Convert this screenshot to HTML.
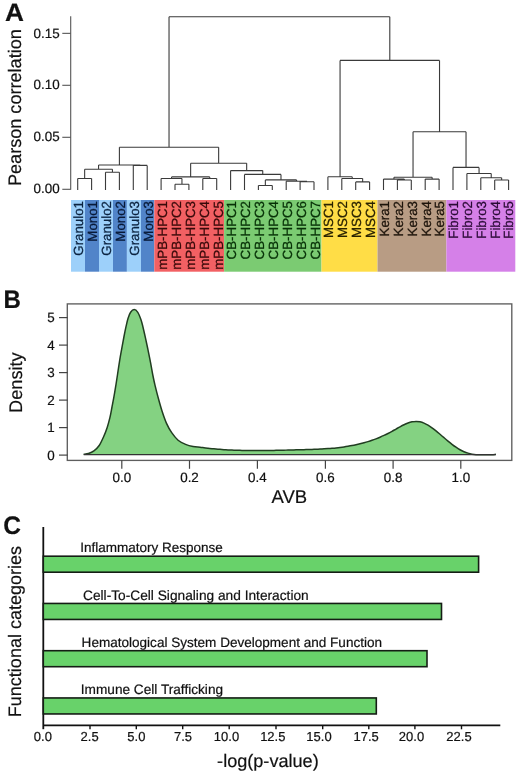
<!DOCTYPE html>
<html><head><meta charset="utf-8"><style>
html,body{margin:0;padding:0;background:#fff;}
svg{display:block;will-change:transform;}
text{font-family:"Liberation Sans", sans-serif;fill:#111;stroke:#111;stroke-width:0.2px;text-rendering:geometricPrecision;}
</style></head><body>
<svg width="520" height="777" viewBox="0 0 520 777">
<rect width="520" height="777" fill="#fff"/>
<path d="M77.70 189.90V178.50M91.60 189.90V178.50M77.70 178.50H91.60M105.50 189.90V172.30M119.40 189.90V172.30M105.50 172.30H119.40M84.65 178.50V169.20M112.45 172.30V169.20M84.65 169.20H112.45M133.30 189.90V165.40M147.20 189.90V165.40M133.30 165.40H147.20M98.55 169.20V165.00M140.25 165.40V165.00M98.55 165.00H140.25M175.00 189.90V184.20M188.90 189.90V184.20M175.00 184.20H188.90M161.10 189.90V178.50M181.95 184.20V178.50M161.10 178.50H181.95M202.80 189.90V178.50M216.70 189.90V178.50M202.80 178.50H216.70M171.53 178.50V176.90M209.75 178.50V176.90M171.53 176.90H209.75M300.10 189.90V181.80M314.00 189.90V181.80M300.10 181.80H314.00M286.20 189.90V181.30M307.05 181.80V181.30M286.20 181.30H307.05M258.40 189.90V185.50M272.30 189.90V185.50M258.40 185.50H272.30M265.35 185.50V179.90M296.62 181.30V179.90M265.35 179.90H296.62M244.50 189.90V174.40M280.99 179.90V174.40M244.50 174.40H280.99M230.60 189.90V170.60M262.74 174.40V170.60M230.60 170.60H262.74M190.64 176.90V163.30M246.67 170.60V163.30M190.64 163.30H246.67M119.40 165.00V147.30M218.65 163.30V147.30M119.40 147.30H218.65M355.70 189.90V181.90M369.60 189.90V181.90M355.70 181.90H369.60M341.80 189.90V178.50M362.65 181.90V178.50M341.80 178.50H362.65M327.90 189.90V176.80M352.23 178.50V176.80M327.90 176.80H352.23M397.40 189.90V180.00M411.30 189.90V180.00M397.40 180.00H411.30M383.50 189.90V179.10M404.35 180.00V179.10M383.50 179.10H404.35M425.20 189.90V179.10M439.10 189.90V179.10M425.20 179.10H439.10M393.93 179.10V177.20M432.15 179.10V177.20M393.93 177.20H432.15M494.70 189.90V180.00M508.60 189.90V180.00M494.70 180.00H508.60M480.80 189.90V177.70M501.65 180.00V177.70M480.80 177.70H501.65M466.90 189.90V173.50M491.23 177.70V173.50M466.90 173.50H491.23M453.00 189.90V167.40M479.06 173.50V167.40M453.00 167.40H479.06M413.04 177.20V131.70M466.03 167.40V131.70M413.04 131.70H466.03M340.06 176.80V60.40M439.53 131.70V60.40M340.06 60.40H439.53M169.03 147.30V16.70M389.80 60.40V16.70M169.03 16.70H389.80" fill="none" stroke="#3a3a3a" stroke-width="1.1"/>
<path d="M70.7 16.3V189.8" stroke="#555" stroke-width="1.1" fill="none"/>
<path d="M62.3 33.35H70.7" stroke="#555" stroke-width="1.1"/>
<text x="59.6" y="37.9" font-size="13.4" text-anchor="end">0.15</text>
<path d="M62.3 85.3H70.7" stroke="#555" stroke-width="1.1"/>
<text x="59.6" y="88.9" font-size="13.4" text-anchor="end">0.10</text>
<path d="M62.3 137.3H70.7" stroke="#555" stroke-width="1.1"/>
<text x="59.6" y="140.9" font-size="13.4" text-anchor="end">0.05</text>
<path d="M62.3 189.3H70.7" stroke="#555" stroke-width="1.1"/>
<text x="59.6" y="192.8" font-size="13.4" text-anchor="end">0.00</text>
<text transform="translate(21.2,107.6) rotate(-90)" font-size="18.1" text-anchor="middle">Pearson correlation</text>
<rect x="71.00" y="200.0" width="14.00" height="71.70" fill="#9dd0fa"/>
<rect x="85.00" y="200.0" width="14.00" height="71.70" fill="#5184c9"/>
<rect x="99.00" y="200.0" width="14.00" height="71.70" fill="#9dd0fa"/>
<rect x="113.00" y="200.0" width="13.90" height="71.70" fill="#5184c9"/>
<rect x="126.90" y="200.0" width="14.10" height="71.70" fill="#9dd0fa"/>
<rect x="141.00" y="200.0" width="13.30" height="71.70" fill="#5184c9"/>
<rect x="154.30" y="200.0" width="69.80" height="71.70" fill="#f26063"/>
<rect x="224.10" y="200.0" width="97.40" height="71.70" fill="#7bcb72"/>
<rect x="321.50" y="200.0" width="56.00" height="71.70" fill="#ffdd46"/>
<rect x="377.50" y="200.0" width="68.90" height="71.70" fill="#b89c84"/>
<rect x="446.40" y="200.0" width="68.90" height="71.70" fill="#d580e8"/>
<text transform="translate(82.90,201.0) rotate(-90)" font-size="13.3" text-anchor="end" style="fill:#0b2340;stroke:#0b2340;stroke-width:0.25px">Granulo1</text>
<text transform="translate(96.90,201.0) rotate(-90)" font-size="13.3" text-anchor="end" style="fill:#081a38;stroke:#081a38;stroke-width:0.25px">Mono1</text>
<text transform="translate(110.90,201.0) rotate(-90)" font-size="13.3" text-anchor="end" style="fill:#0b2340;stroke:#0b2340;stroke-width:0.25px">Granulo2</text>
<text transform="translate(124.85,201.0) rotate(-90)" font-size="13.3" text-anchor="end" style="fill:#081a38;stroke:#081a38;stroke-width:0.25px">Mono2</text>
<text transform="translate(138.85,201.0) rotate(-90)" font-size="13.3" text-anchor="end" style="fill:#0b2340;stroke:#0b2340;stroke-width:0.25px">Granulo3</text>
<text transform="translate(152.55,201.0) rotate(-90)" font-size="13.3" text-anchor="end" style="fill:#081a38;stroke:#081a38;stroke-width:0.25px">Mono3</text>
<text transform="translate(167.00,201.0) rotate(-90)" font-size="13.3" text-anchor="end" style="fill:#3a0a0a;stroke:#3a0a0a;stroke-width:0.25px">mPB-HPC1</text>
<text transform="translate(180.95,201.0) rotate(-90)" font-size="13.3" text-anchor="end" style="fill:#3a0a0a;stroke:#3a0a0a;stroke-width:0.25px">mPB-HPC2</text>
<text transform="translate(194.90,201.0) rotate(-90)" font-size="13.3" text-anchor="end" style="fill:#3a0a0a;stroke:#3a0a0a;stroke-width:0.25px">mPB-HPC3</text>
<text transform="translate(208.85,201.0) rotate(-90)" font-size="13.3" text-anchor="end" style="fill:#3a0a0a;stroke:#3a0a0a;stroke-width:0.25px">mPB-HPC4</text>
<text transform="translate(222.80,201.0) rotate(-90)" font-size="13.3" text-anchor="end" style="fill:#3a0a0a;stroke:#3a0a0a;stroke-width:0.25px">mPB-HPC5</text>
<text transform="translate(236.35,201.0) rotate(-90)" font-size="13.3" text-anchor="end" style="fill:#073107;stroke:#073107;stroke-width:0.25px">CB-HPC1</text>
<text transform="translate(250.25,201.0) rotate(-90)" font-size="13.3" text-anchor="end" style="fill:#073107;stroke:#073107;stroke-width:0.25px">CB-HPC2</text>
<text transform="translate(264.15,201.0) rotate(-90)" font-size="13.3" text-anchor="end" style="fill:#073107;stroke:#073107;stroke-width:0.25px">CB-HPC3</text>
<text transform="translate(278.05,201.0) rotate(-90)" font-size="13.3" text-anchor="end" style="fill:#073107;stroke:#073107;stroke-width:0.25px">CB-HPC4</text>
<text transform="translate(291.95,201.0) rotate(-90)" font-size="13.3" text-anchor="end" style="fill:#073107;stroke:#073107;stroke-width:0.25px">CB-HPC5</text>
<text transform="translate(305.85,201.0) rotate(-90)" font-size="13.3" text-anchor="end" style="fill:#073107;stroke:#073107;stroke-width:0.25px">CB-HPC6</text>
<text transform="translate(319.80,201.0) rotate(-90)" font-size="13.3" text-anchor="end" style="fill:#073107;stroke:#073107;stroke-width:0.25px">CB-HPC7</text>
<text transform="translate(333.40,201.0) rotate(-90)" font-size="13.3" text-anchor="end" style="fill:#2a2300;stroke:#2a2300;stroke-width:0.25px">MSC1</text>
<text transform="translate(347.40,201.0) rotate(-90)" font-size="13.3" text-anchor="end" style="fill:#2a2300;stroke:#2a2300;stroke-width:0.25px">MSC2</text>
<text transform="translate(361.40,201.0) rotate(-90)" font-size="13.3" text-anchor="end" style="fill:#2a2300;stroke:#2a2300;stroke-width:0.25px">MSC3</text>
<text transform="translate(375.40,201.0) rotate(-90)" font-size="13.3" text-anchor="end" style="fill:#2a2300;stroke:#2a2300;stroke-width:0.25px">MSC4</text>
<text transform="translate(389.30,201.0) rotate(-90)" font-size="13.3" text-anchor="end" style="fill:#1c130a;stroke:#1c130a;stroke-width:0.25px">Kera1</text>
<text transform="translate(403.10,201.0) rotate(-90)" font-size="13.3" text-anchor="end" style="fill:#1c130a;stroke:#1c130a;stroke-width:0.25px">Kera2</text>
<text transform="translate(416.90,201.0) rotate(-90)" font-size="13.3" text-anchor="end" style="fill:#1c130a;stroke:#1c130a;stroke-width:0.25px">Kera3</text>
<text transform="translate(430.65,201.0) rotate(-90)" font-size="13.3" text-anchor="end" style="fill:#1c130a;stroke:#1c130a;stroke-width:0.25px">Kera4</text>
<text transform="translate(444.40,201.0) rotate(-90)" font-size="13.3" text-anchor="end" style="fill:#1c130a;stroke:#1c130a;stroke-width:0.25px">Kera5</text>
<text transform="translate(458.20,201.0) rotate(-90)" font-size="13.3" text-anchor="end" style="fill:#2a0a36;stroke:#2a0a36;stroke-width:0.25px">Fibro1</text>
<text transform="translate(472.00,201.0) rotate(-90)" font-size="13.3" text-anchor="end" style="fill:#2a0a36;stroke:#2a0a36;stroke-width:0.25px">Fibro2</text>
<text transform="translate(485.80,201.0) rotate(-90)" font-size="13.3" text-anchor="end" style="fill:#2a0a36;stroke:#2a0a36;stroke-width:0.25px">Fibro3</text>
<text transform="translate(499.55,201.0) rotate(-90)" font-size="13.3" text-anchor="end" style="fill:#2a0a36;stroke:#2a0a36;stroke-width:0.25px">Fibro4</text>
<text transform="translate(513.30,201.0) rotate(-90)" font-size="13.3" text-anchor="end" style="fill:#2a0a36;stroke:#2a0a36;stroke-width:0.25px">Fibro5</text>
<rect x="67.3" y="303.9" width="444.5" height="156.5" fill="none" stroke="#5e5e5e" stroke-width="1.35"/>
<path d="M59 317.6H67.6" stroke="#444" stroke-width="1.2"/>
<text x="54.8" y="322.4" font-size="13.4" text-anchor="end">5</text>
<path d="M59 345.1H67.6" stroke="#444" stroke-width="1.2"/>
<text x="54.8" y="349.9" font-size="13.4" text-anchor="end">4</text>
<path d="M59 372.6H67.6" stroke="#444" stroke-width="1.2"/>
<text x="54.8" y="377.4" font-size="13.4" text-anchor="end">3</text>
<path d="M59 400.1H67.6" stroke="#444" stroke-width="1.2"/>
<text x="54.8" y="404.9" font-size="13.4" text-anchor="end">2</text>
<path d="M59 427.6H67.6" stroke="#444" stroke-width="1.2"/>
<text x="54.8" y="432.4" font-size="13.4" text-anchor="end">1</text>
<path d="M59 455.1H67.6" stroke="#444" stroke-width="1.2"/>
<text x="54.8" y="459.9" font-size="13.4" text-anchor="end">0</text>
<path d="M121.8 460.3V468.8" stroke="#444" stroke-width="1.2"/>
<text x="121.8" y="481.9" font-size="13.4" text-anchor="middle">0.0</text>
<path d="M189.5 460.3V468.8" stroke="#444" stroke-width="1.2"/>
<text x="189.5" y="481.9" font-size="13.4" text-anchor="middle">0.2</text>
<path d="M257.4 460.3V468.8" stroke="#444" stroke-width="1.2"/>
<text x="257.4" y="481.9" font-size="13.4" text-anchor="middle">0.4</text>
<path d="M325.4 460.3V468.8" stroke="#444" stroke-width="1.2"/>
<text x="325.4" y="481.9" font-size="13.4" text-anchor="middle">0.6</text>
<path d="M393.1 460.3V468.8" stroke="#444" stroke-width="1.2"/>
<text x="393.1" y="481.9" font-size="13.4" text-anchor="middle">0.8</text>
<path d="M460.8 460.3V468.8" stroke="#444" stroke-width="1.2"/>
<text x="460.8" y="481.9" font-size="13.4" text-anchor="middle">1.0</text>
<text x="289.3" y="502.9" font-size="18.5" text-anchor="middle">AVB</text>
<text transform="translate(21.6,382.6) rotate(-90)" font-size="18.2" text-anchor="middle">Density</text>
<path d="M83.70 454.30C84.50 454.17 86.80 454.07 88.50 453.50C90.20 452.93 92.12 452.23 93.90 450.90C95.68 449.57 97.60 447.82 99.20 445.50C100.80 443.18 102.17 440.02 103.50 437.00C104.83 433.98 106.13 430.62 107.20 427.40C108.27 424.18 109.10 421.10 109.90 417.70C110.70 414.30 111.32 410.55 112.00 407.00C112.68 403.45 113.37 399.95 114.00 396.40C114.63 392.85 115.20 389.43 115.80 385.70C116.40 381.97 116.93 378.33 117.60 374.00C118.27 369.67 119.10 363.97 119.80 359.70C120.50 355.43 121.12 352.18 121.80 348.40C122.48 344.62 123.20 340.62 123.90 337.00C124.60 333.38 125.32 329.78 126.00 326.70C126.68 323.62 127.23 320.90 128.00 318.50C128.77 316.10 129.57 313.78 130.60 312.30C131.63 310.82 133.00 309.60 134.20 309.60C135.40 309.60 136.68 310.65 137.80 312.30C138.92 313.95 140.05 317.10 140.90 319.50C141.75 321.90 142.13 323.60 142.90 326.70C143.67 329.80 144.63 334.15 145.50 338.10C146.37 342.05 147.25 346.28 148.10 350.40C148.95 354.52 149.82 358.70 150.60 362.80C151.38 366.90 152.05 371.18 152.80 375.00C153.55 378.82 154.17 381.78 155.10 385.70C156.03 389.62 157.23 394.23 158.40 398.50C159.57 402.77 160.77 407.20 162.10 411.30C163.43 415.40 164.80 419.53 166.40 423.10C168.00 426.67 169.75 429.85 171.70 432.70C173.65 435.55 175.78 438.25 178.10 440.20C180.42 442.15 183.10 443.33 185.60 444.40C188.10 445.47 190.70 446.12 193.10 446.60C195.50 447.08 198.18 447.06 200.00 447.25C201.82 447.44 202.67 447.60 204.00 447.77C205.33 447.94 206.67 448.09 208.00 448.24C209.33 448.39 210.67 448.53 212.00 448.66C213.33 448.79 214.67 448.91 216.00 449.03C217.33 449.14 218.67 449.25 220.00 449.35C221.33 449.45 222.67 449.55 224.00 449.64C225.33 449.73 226.67 449.81 228.00 449.88C229.33 449.95 230.67 450.02 232.00 450.08C233.33 450.14 234.67 450.19 236.00 450.24C237.33 450.29 238.67 450.33 240.00 450.37C241.33 450.41 242.67 450.44 244.00 450.47C245.33 450.50 246.67 450.51 248.00 450.53C249.33 450.55 250.67 450.56 252.00 450.57C253.33 450.58 254.67 450.59 256.00 450.59C257.33 450.59 258.67 450.59 260.00 450.58C261.33 450.57 262.67 450.56 264.00 450.55C265.33 450.54 266.67 450.52 268.00 450.50C269.33 450.48 270.67 450.46 272.00 450.44C273.33 450.42 274.67 450.39 276.00 450.36C277.33 450.33 278.67 450.31 280.00 450.28C281.33 450.25 282.67 450.22 284.00 450.18C285.33 450.14 286.67 450.11 288.00 450.07C289.33 450.03 290.67 450.00 292.00 449.96C293.33 449.92 294.67 449.89 296.00 449.85C297.33 449.81 298.67 449.78 300.00 449.74C301.33 449.70 302.67 449.67 304.00 449.63C305.33 449.59 306.67 449.56 308.00 449.52C309.33 449.48 310.67 449.44 312.00 449.39C313.33 449.34 314.67 449.29 316.00 449.24C317.33 449.19 318.67 449.13 320.00 449.07C321.33 449.00 322.67 448.93 324.00 448.85C325.33 448.77 326.67 448.69 328.00 448.59C329.33 448.49 330.67 448.39 332.00 448.28C333.33 448.16 334.67 448.04 336.00 447.90C337.33 447.76 338.67 447.61 340.00 447.45C341.33 447.29 342.67 447.12 344.00 446.93C345.33 446.74 346.67 446.53 348.00 446.31C349.33 446.09 350.67 445.86 352.00 445.60C353.33 445.35 354.67 445.07 356.00 444.78C357.33 444.49 358.67 444.18 360.00 443.85C361.33 443.52 362.67 443.17 364.00 442.80C365.33 442.43 366.67 442.04 368.00 441.62C369.33 441.20 370.67 440.76 372.00 440.30C373.33 439.84 374.67 439.34 376.00 438.83C377.33 438.31 378.67 437.78 380.00 437.21C381.33 436.64 382.67 436.05 384.00 435.43C385.33 434.81 386.67 434.15 388.00 433.47C389.33 432.79 390.67 432.06 392.00 431.33C393.33 430.59 394.67 429.81 396.00 429.06C397.33 428.31 398.67 427.52 400.00 426.80C401.33 426.08 402.67 425.36 404.00 424.73C405.33 424.10 406.67 423.51 408.00 423.03C409.33 422.55 410.67 422.13 412.00 421.86C413.33 421.59 414.67 421.40 416.00 421.39C417.33 421.38 418.67 421.50 420.00 421.79C421.33 422.08 422.67 422.55 424.00 423.11C425.33 423.68 426.67 424.39 428.00 425.18C429.33 425.97 430.67 426.88 432.00 427.83C433.33 428.78 434.67 429.84 436.00 430.91C437.33 431.98 438.67 433.13 440.00 434.26C441.33 435.39 442.67 436.55 444.00 437.69C445.33 438.83 446.67 439.98 448.00 441.08C449.33 442.18 450.67 443.28 452.00 444.30C453.33 445.32 454.67 446.32 456.00 447.22C457.33 448.12 458.67 448.98 460.00 449.72C461.33 450.47 462.67 451.12 464.00 451.69C465.33 452.26 466.67 452.74 468.00 453.15C469.33 453.56 470.67 453.89 472.00 454.15C473.33 454.41 474.67 454.61 476.00 454.70C477.33 454.79 478.67 454.70 480.00 454.70C481.33 454.70 482.67 454.70 484.00 454.70C485.33 454.70 486.67 454.70 488.00 454.70C489.33 454.69 490.68 454.73 492.00 454.67C493.32 454.61 495.25 454.39 495.90 454.34L495.9 455L83.7 455Z" fill="#84d282" stroke="none"/>
<path d="M83.70 454.30C84.50 454.17 86.80 454.07 88.50 453.50C90.20 452.93 92.12 452.23 93.90 450.90C95.68 449.57 97.60 447.82 99.20 445.50C100.80 443.18 102.17 440.02 103.50 437.00C104.83 433.98 106.13 430.62 107.20 427.40C108.27 424.18 109.10 421.10 109.90 417.70C110.70 414.30 111.32 410.55 112.00 407.00C112.68 403.45 113.37 399.95 114.00 396.40C114.63 392.85 115.20 389.43 115.80 385.70C116.40 381.97 116.93 378.33 117.60 374.00C118.27 369.67 119.10 363.97 119.80 359.70C120.50 355.43 121.12 352.18 121.80 348.40C122.48 344.62 123.20 340.62 123.90 337.00C124.60 333.38 125.32 329.78 126.00 326.70C126.68 323.62 127.23 320.90 128.00 318.50C128.77 316.10 129.57 313.78 130.60 312.30C131.63 310.82 133.00 309.60 134.20 309.60C135.40 309.60 136.68 310.65 137.80 312.30C138.92 313.95 140.05 317.10 140.90 319.50C141.75 321.90 142.13 323.60 142.90 326.70C143.67 329.80 144.63 334.15 145.50 338.10C146.37 342.05 147.25 346.28 148.10 350.40C148.95 354.52 149.82 358.70 150.60 362.80C151.38 366.90 152.05 371.18 152.80 375.00C153.55 378.82 154.17 381.78 155.10 385.70C156.03 389.62 157.23 394.23 158.40 398.50C159.57 402.77 160.77 407.20 162.10 411.30C163.43 415.40 164.80 419.53 166.40 423.10C168.00 426.67 169.75 429.85 171.70 432.70C173.65 435.55 175.78 438.25 178.10 440.20C180.42 442.15 183.10 443.33 185.60 444.40C188.10 445.47 190.70 446.12 193.10 446.60C195.50 447.08 198.18 447.06 200.00 447.25C201.82 447.44 202.67 447.60 204.00 447.77C205.33 447.94 206.67 448.09 208.00 448.24C209.33 448.39 210.67 448.53 212.00 448.66C213.33 448.79 214.67 448.91 216.00 449.03C217.33 449.14 218.67 449.25 220.00 449.35C221.33 449.45 222.67 449.55 224.00 449.64C225.33 449.73 226.67 449.81 228.00 449.88C229.33 449.95 230.67 450.02 232.00 450.08C233.33 450.14 234.67 450.19 236.00 450.24C237.33 450.29 238.67 450.33 240.00 450.37C241.33 450.41 242.67 450.44 244.00 450.47C245.33 450.50 246.67 450.51 248.00 450.53C249.33 450.55 250.67 450.56 252.00 450.57C253.33 450.58 254.67 450.59 256.00 450.59C257.33 450.59 258.67 450.59 260.00 450.58C261.33 450.57 262.67 450.56 264.00 450.55C265.33 450.54 266.67 450.52 268.00 450.50C269.33 450.48 270.67 450.46 272.00 450.44C273.33 450.42 274.67 450.39 276.00 450.36C277.33 450.33 278.67 450.31 280.00 450.28C281.33 450.25 282.67 450.22 284.00 450.18C285.33 450.14 286.67 450.11 288.00 450.07C289.33 450.03 290.67 450.00 292.00 449.96C293.33 449.92 294.67 449.89 296.00 449.85C297.33 449.81 298.67 449.78 300.00 449.74C301.33 449.70 302.67 449.67 304.00 449.63C305.33 449.59 306.67 449.56 308.00 449.52C309.33 449.48 310.67 449.44 312.00 449.39C313.33 449.34 314.67 449.29 316.00 449.24C317.33 449.19 318.67 449.13 320.00 449.07C321.33 449.00 322.67 448.93 324.00 448.85C325.33 448.77 326.67 448.69 328.00 448.59C329.33 448.49 330.67 448.39 332.00 448.28C333.33 448.16 334.67 448.04 336.00 447.90C337.33 447.76 338.67 447.61 340.00 447.45C341.33 447.29 342.67 447.12 344.00 446.93C345.33 446.74 346.67 446.53 348.00 446.31C349.33 446.09 350.67 445.86 352.00 445.60C353.33 445.35 354.67 445.07 356.00 444.78C357.33 444.49 358.67 444.18 360.00 443.85C361.33 443.52 362.67 443.17 364.00 442.80C365.33 442.43 366.67 442.04 368.00 441.62C369.33 441.20 370.67 440.76 372.00 440.30C373.33 439.84 374.67 439.34 376.00 438.83C377.33 438.31 378.67 437.78 380.00 437.21C381.33 436.64 382.67 436.05 384.00 435.43C385.33 434.81 386.67 434.15 388.00 433.47C389.33 432.79 390.67 432.06 392.00 431.33C393.33 430.59 394.67 429.81 396.00 429.06C397.33 428.31 398.67 427.52 400.00 426.80C401.33 426.08 402.67 425.36 404.00 424.73C405.33 424.10 406.67 423.51 408.00 423.03C409.33 422.55 410.67 422.13 412.00 421.86C413.33 421.59 414.67 421.40 416.00 421.39C417.33 421.38 418.67 421.50 420.00 421.79C421.33 422.08 422.67 422.55 424.00 423.11C425.33 423.68 426.67 424.39 428.00 425.18C429.33 425.97 430.67 426.88 432.00 427.83C433.33 428.78 434.67 429.84 436.00 430.91C437.33 431.98 438.67 433.13 440.00 434.26C441.33 435.39 442.67 436.55 444.00 437.69C445.33 438.83 446.67 439.98 448.00 441.08C449.33 442.18 450.67 443.28 452.00 444.30C453.33 445.32 454.67 446.32 456.00 447.22C457.33 448.12 458.67 448.98 460.00 449.72C461.33 450.47 462.67 451.12 464.00 451.69C465.33 452.26 466.67 452.74 468.00 453.15C469.33 453.56 470.67 453.89 472.00 454.15C473.33 454.41 474.67 454.61 476.00 454.70C477.33 454.79 478.67 454.70 480.00 454.70C481.33 454.70 482.67 454.70 484.00 454.70C485.33 454.70 486.67 454.70 488.00 454.70C489.33 454.69 490.68 454.73 492.00 454.67C493.32 454.61 495.25 454.39 495.90 454.34" fill="none" stroke="#213d21" stroke-width="1.5"/>
<path d="M83.7 454.6H495.9" stroke="#333" stroke-width="1.1"/>
<path d="M43.3 527V729.2" stroke="#111" stroke-width="1.8"/>
<path d="M43.3 725.4H500.3" stroke="#111" stroke-width="1.6"/>
<path d="M90 725.4V729.3" stroke="#111" stroke-width="1.4"/>
<path d="M136.3 725.4V729.3" stroke="#111" stroke-width="1.4"/>
<path d="M182.7 725.4V729.3" stroke="#111" stroke-width="1.4"/>
<path d="M229.2 725.4V729.3" stroke="#111" stroke-width="1.4"/>
<path d="M276 725.4V729.3" stroke="#111" stroke-width="1.4"/>
<path d="M322.7 725.4V729.3" stroke="#111" stroke-width="1.4"/>
<path d="M368.8 725.4V729.3" stroke="#111" stroke-width="1.4"/>
<path d="M414.9 725.4V729.3" stroke="#111" stroke-width="1.4"/>
<path d="M461.5 725.4V729.3" stroke="#111" stroke-width="1.4"/>
<text x="42.85" y="741" font-size="13" text-anchor="middle">0.0</text>
<text x="89.65" y="741" font-size="13" text-anchor="middle">2.5</text>
<text x="136.4" y="741" font-size="13" text-anchor="middle">5.0</text>
<text x="183" y="741" font-size="13" text-anchor="middle">7.5</text>
<text x="226.5" y="741" font-size="13" text-anchor="middle">10.0</text>
<text x="272.8" y="741" font-size="13" text-anchor="middle">12.5</text>
<text x="319" y="741" font-size="13" text-anchor="middle">15.0</text>
<text x="366.2" y="741" font-size="13" text-anchor="middle">17.5</text>
<text x="411.5" y="741" font-size="13" text-anchor="middle">20.0</text>
<text x="459" y="741" font-size="13" text-anchor="middle">22.5</text>
<rect x="43.3" y="556.2" width="435.3" height="16.0" fill="#68d26a" stroke="#141d14" stroke-width="1.6"/>
<text x="80.3" y="551.8" font-size="13.5">Inflammatory Response</text>
<rect x="43.3" y="603.45" width="398.2" height="16.0" fill="#68d26a" stroke="#141d14" stroke-width="1.6"/>
<text x="83.0" y="599.8" font-size="13.72">Cell-To-Cell Signaling and Interaction</text>
<rect x="43.3" y="650.7" width="383.7" height="16.0" fill="#68d26a" stroke="#141d14" stroke-width="1.6"/>
<text x="81.6" y="646.6" font-size="13.55">Hematological System Development and Function</text>
<rect x="43.3" y="697.95" width="333.0" height="16.0" fill="#68d26a" stroke="#141d14" stroke-width="1.6"/>
<text x="80.8" y="693.6" font-size="13.65">Immune Cell Trafficking</text>
<text x="267.9" y="767.2" font-size="18.1" text-anchor="middle">-log(p-value)</text>
<text transform="translate(21.2,631.6) rotate(-90)" font-size="18.0" text-anchor="middle">Functional categories</text>
<text transform="translate(5.0,21.1) scale(1.04,1)" x="0" y="0" font-size="25.2" font-weight="bold">A</text>
<text transform="translate(3.6,308.3) scale(0.95,1)" font-size="25.3" font-weight="bold">B</text>
<text transform="translate(3.2,533.8) scale(0.97,1)" font-size="25.3" font-weight="bold">C</text>
</svg>
</body></html>
